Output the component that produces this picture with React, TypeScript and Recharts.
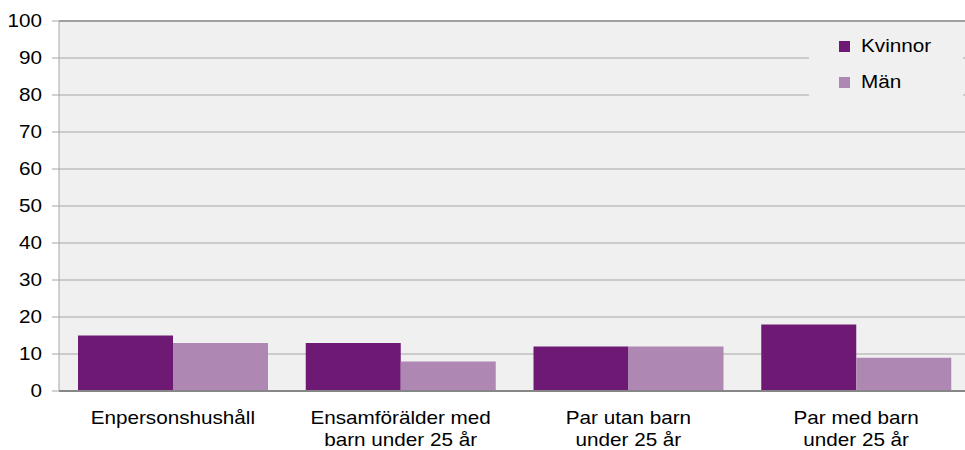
import { BarChart, Bar, XAxis, YAxis, CartesianGrid, Legend, ReferenceLine } from "recharts";

const categories = [
  "Enpersonshushåll",
  "Ensamförälder med|barn under 25 år",
  "Par utan barn|under 25 år",
  "Par med barn|under 25 år",
];
const kvinnor = [15, 13, 12, 18];
const man = [13, 8, 12, 9];
const yTicks = [0, 10, 20, 30, 40, 50, 60, 70, 80, 90, 100];

const data = categories.map((c, i) => ({ name: c, Kvinnor: kvinnor[i], Män: man[i] }));

const FONT = "'Liberation Sans', Arial, sans-serif";
const STRETCH = 1.15;

function XTick(props: any) {
  const { x, y, payload } = props;
  const lines = String(payload.value).split("|");
  return (
    <g transform={`translate(${x},${y}) scale(${STRETCH},1)`}>
      {lines.map((l, i) => (
        <text key={i} x={0} y={33 + i * 22} textAnchor="middle" fill="#000" fontSize={18} fontFamily={FONT}>
          {l}
        </text>
      ))}
    </g>
  );
}

function YTick(props: any) {
  const { x, y, payload } = props;
  return (
    <g transform={`translate(${x},${y}) scale(${STRETCH},1)`}>
      <text x={0} y={0} dy="0.36em" textAnchor="end" fill="#000" fontSize={18} fontFamily={FONT}>
        {payload.value}
      </text>
    </g>
  );
}

function LegendBox(props: any) {
  const items = props.payload || [];
  return (
    <div style={{ width: 154, height: 88, background: "#f0f0f0", position: "relative" }}>
      {items.map((it: any, i: number) => (
        <div key={i} style={{ position: "absolute", left: 30, top: 18 + i * 36, height: 11, display: "flex", alignItems: "center" }}>
          <div style={{ width: 11, height: 11, background: it.color }} />
          <span
            style={{
              marginLeft: 11,
              fontFamily: FONT,
              fontSize: 18,
              color: "#000",
              transform: `scaleX(${STRETCH})`,
              transformOrigin: "left center",
              whiteSpace: "nowrap",
            }}
          >
            {it.value}
          </span>
        </div>
      ))}
    </div>
  );
}

export default function App() {
  return (
    <div style={{ position: "absolute", left: 0, top: 0, width: 965, height: 450, overflow: "hidden", background: "#fff" }}>
      <BarChart
        width={975}
        height={450}
        data={data}
        margin={{ top: 21, right: 5, left: 0, bottom: 0 }}
        barCategoryGap={19}
        barGap={0}
      >
        <CartesianGrid vertical={false} stroke="#a6a6a6" fill="#f0f0f0" />
        <XAxis
          dataKey="name"
          height={59}
          interval={0}
          tickLine={false}
          tickSize={0}
          tickMargin={0}
          axisLine={{ stroke: "#868686", strokeWidth: 2 }}
          tick={<XTick />}
        />
        <YAxis
          width={59}
          domain={[0, 100]}
          ticks={yTicks}
          interval={0}
          tickSize={7}
          tickMargin={10}
          axisLine={{ stroke: "#a6a6a6" }}
          tickLine={{ stroke: "#a6a6a6" }}
          tick={<YTick />}
        />
        <ReferenceLine y={100} stroke="#a0a0a0" strokeWidth={2} />
        <Legend
          layout="vertical"
          align="center"
          verticalAlign="middle"
          content={<LegendBox />}
          wrapperStyle={{ position: "absolute", left: 809, top: 23, width: 154, height: 88 }}
        />
        <Bar dataKey="Kvinnor" fill="#6e1a74" isAnimationActive={false} />
        <Bar dataKey="Män" fill="#ae88b3" isAnimationActive={false} />
      </BarChart>
    </div>
  );
}
